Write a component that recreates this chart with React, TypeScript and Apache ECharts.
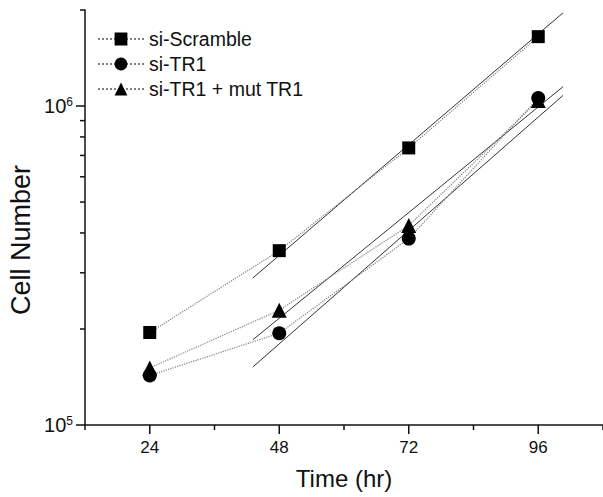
import React, { useEffect, useRef } from "react";
import * as echarts from "echarts";

const times = [24, 48, 72, 96];
const scramble = [1.95e5, 3.52e5, 7.39e5, 1.65e6];
const tr1 = [1.43e5, 1.94e5, 3.84e5, 1.06e6];
const mutTr1 = [1.51e5, 2.29e5, 4.22e5, 1.04e6];
const seriesNames = ["si-Scramble", "si-TR1", "si-TR1 + mut TR1"];
// fitted exponential growth lines (start / end)
const fitTimes = [43.1, 100.6];
const fitScramble = [2.89e5, 1.96e6];
const fitTr1 = [1.52e5, 1.08e6];
const fitMutTr1 = [1.85e5, 1.15e6];
const xMajorTicks = [24, 48, 72, 96];
const xMinorTicks = [12, 36, 60, 84, 108];
const yMajorTicks = [1e5, 1e6];
const yMinorTicks = [2e5, 3e5, 4e5, 5e5, 6e5, 7e5, 8e5, 9e5, 2e6];

const FONT = "'Liberation Sans', Arial, sans-serif";
const AXIS = "#111";

function tickSeries(data: number[][], dx: number, dy: number) {
  return {
    type: "custom",
    silent: true,
    clip: false,
    z: 10,
    data,
    renderItem: (params: any, api: any) => {
      const p = api.coord([api.value(0), api.value(1)]);
      return {
        type: "line",
        shape: { x1: p[0], y1: p[1], x2: p[0] + dx, y2: p[1] + dy },
        style: { stroke: AXIS, lineWidth: 1.5 },
      };
    },
  };
}

export default function App() {
  const ref = useRef<HTMLDivElement>(null);
  useEffect(() => {
    if (!ref.current) return;
    const chart = echarts.init(ref.current, null, { renderer: "svg" });
    const symbols = ["rect", "circle", "triangle"];
    const sizes = [13, 14, 15];
    const datasets = [scramble, tr1, mutTr1];
    const fits = [fitScramble, fitTr1, fitMutTr1];
    const dataSeries = datasets.map((ys, i) => ({
      name: seriesNames[i],
      type: "line",
      data: times.map((t, j) => [t, ys[j]]),
      symbol: symbols[i],
      symbolSize: sizes[i],
      itemStyle: { color: "#000" },
      lineStyle: { color: "#808080", width: 1.2, type: "dotted" },
      z: 5,
    }));
    const fitSeries = fits.map((ys, i) => ({
      name: "fit " + seriesNames[i],
      type: "line",
      data: fitTimes.map((t, j) => [t, ys[j]]),
      symbol: "none",
      lineStyle: { color: "#333", width: 1 },
      z: 4,
      silent: true,
    }));
    chart.setOption({
      animation: false,
      backgroundColor: "#fff",
      textStyle: { fontFamily: FONT },
      grid: { left: 85, right: 0, top: 10, bottom: 72, outerBoundsMode: "none" },
      legend: {
        data: seriesNames,
        orient: "vertical",
        left: 97,
        top: 29,
        padding: 0,
        itemWidth: 46,
        itemHeight: 16,
        itemGap: 5,
        textStyle: { fontSize: 19.5, lineHeight: 16, color: "#111", fontFamily: FONT },
        selectedMode: false,
      },
      xAxis: {
        type: "value",
        min: 12,
        max: 108,
        interval: 12,
        name: "Time (hr)",
        nameLocation: "middle",
        nameGap: 41,
        nameTextStyle: { fontSize: 24, color: "#111", fontFamily: FONT },
        axisLine: { lineStyle: { color: AXIS, width: 1.5 } },
        axisTick: { show: false },
        splitLine: { show: false },
        axisLabel: {
          margin: 14,
          fontSize: 17,
          color: "#111",
          fontFamily: FONT,
          formatter: (v: number) => (v % 24 === 0 && v > 12 && v < 108 ? String(v) : ""),
        },
      },
      yAxis: {
        type: "log",
        logBase: 10,
        min: 1e5,
        max: 2e6,
        axisLine: { lineStyle: { color: AXIS, width: 1.5 } },
        axisTick: { show: false },
        minorTick: { show: false },
        splitLine: { show: false },
        axisLabel: {
          margin: 12,
          fontSize: 20,
          color: "#111",
          fontFamily: FONT,
          formatter: (v: number) => {
            const e = Math.log10(v);
            if (Math.abs(e - Math.round(e)) < 1e-6) return `{base|10}{sup|${Math.round(e)}}`;
            return "";
          },
          rich: {
            base: { fontSize: 20, color: "#111", fontFamily: FONT },
            sup: { fontSize: 12, color: "#111", fontFamily: FONT, verticalAlign: "top", padding: [0, 0, 9, 0] },
          },
        },
      },
      graphic: [
        {
          type: "text",
          x: 21,
          y: 240,
          rotation: Math.PI / 2,
          style: {
            text: "Cell Number",
            fontSize: 27,
            fontFamily: FONT,
            fill: "#111",
            align: "center",
            verticalAlign: "middle",
          },
        },
      ],
      series: [
        ...fitSeries,
        ...dataSeries,
        tickSeries(xMajorTicks.map((x) => [x, 1e5]), 0, 9),
        tickSeries(xMinorTicks.map((x) => [x, 1e5]), 0, 5),
        tickSeries(yMajorTicks.map((y) => [12, y]), -9, 0),
        tickSeries(yMinorTicks.map((y) => [12, y]), -5, 0),
      ],
    });
    return () => chart.dispose();
  }, []);
  return (
    <div
      ref={ref}
      style={{ position: "fixed", left: 0, top: 0, width: 603, height: 497 }}
    />
  );
}
